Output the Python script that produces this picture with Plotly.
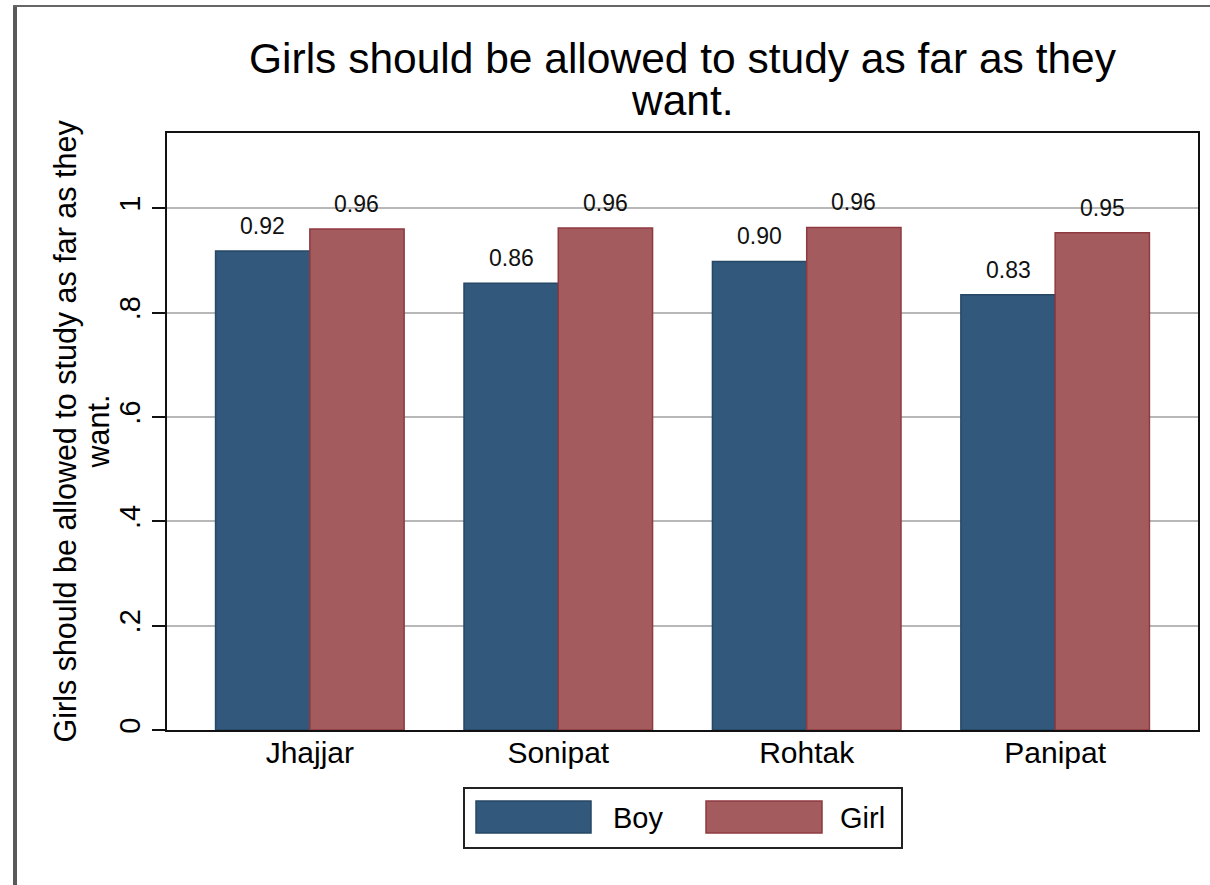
import plotly.graph_objects as go

categories = ["Jhajjar", "Sonipat", "Rohtak", "Panipat"]
boy_values = [0.918, 0.856, 0.898, 0.834]
girl_values = [0.960, 0.962, 0.963, 0.953]
series_names = ["Boy", "Girl"]
ytick_vals = [0, 0.2, 0.4, 0.6, 0.8, 1.0]
ytick_text = ["0", ".2", ".4", ".6", ".8", "1"]
title_lines = ["Girls should be allowed to study as far as they", "want."]

BOY_FILL = "#32587b"
BOY_EDGE = "#274766"
GIRL_FILL = "#a45b5e"
GIRL_EDGE = "#8e3a40"
FONT = "Liberation Sans, Arial, sans-serif"

W, H = 1210, 885
ML, MR, MT, MB = 167, 12, 133, 155
PW = W - ML - MR
PH = H - MT - MB


def px_x(px):
    return (px - ML) / PW


def px_y(py):
    return (H - MB - py) / PH


fig = go.Figure()
fig.add_trace(go.Bar(x=categories, y=boy_values, name=series_names[0],
                     marker=dict(color=BOY_FILL, line=dict(color=BOY_EDGE, width=1.5)),
                     showlegend=False, hoverinfo="skip"))
fig.add_trace(go.Bar(x=categories, y=girl_values, name=series_names[1],
                     marker=dict(color=GIRL_FILL, line=dict(color=GIRL_EDGE, width=1.5)),
                     showlegend=False, hoverinfo="skip"))

bargap = 0.241
half = (1 - bargap) / 4
annotations = []
for i, (b, g) in enumerate(zip(boy_values, girl_values)):
    for off, v in ((-half, b), (half, g)):
        annotations.append(dict(x=i + off, y=v, xref="x", yref="y", text=f"{v:.2f}",
                                showarrow=False, yanchor="bottom", yshift=10,
                                font=dict(family=FONT, size=23, color="#111")))

# title (two lines with tight spacing)
annotations.append(dict(x=0.5, y=px_y(58), xref="paper", yref="paper", text=title_lines[0],
                        showarrow=False, yanchor="middle", xanchor="center",
                        font=dict(family=FONT, size=42.5, color="#000")))
annotations.append(dict(x=0.5, y=px_y(100), xref="paper", yref="paper", text=title_lines[1],
                        showarrow=False, yanchor="middle", xanchor="center",
                        font=dict(family=FONT, size=42.5, color="#000")))
# y axis title (two lines)
annotations.append(dict(x=px_x(65), y=0.5, xref="paper", yref="paper", text=title_lines[0],
                        showarrow=False, textangle=-90, xanchor="center", yanchor="middle",
                        font=dict(family=FONT, size=30.5, color="#000")))
annotations.append(dict(x=px_x(97), y=0.5, xref="paper", yref="paper", text=title_lines[1],
                        showarrow=False, textangle=-90, xanchor="center", yanchor="middle",
                        font=dict(family=FONT, size=30.5, color="#000")))

# custom legend
shapes = [
    dict(type="rect", xref="paper", yref="paper", x0=px_x(464), x1=px_x(902),
         y0=px_y(848), y1=px_y(788), line=dict(color="#222", width=2), fillcolor="white"),
    dict(type="rect", xref="paper", yref="paper", x0=px_x(476), x1=px_x(591),
         y0=px_y(833), y1=px_y(801), line=dict(color=BOY_EDGE, width=1.5), fillcolor=BOY_FILL),
    dict(type="rect", xref="paper", yref="paper", x0=px_x(706), x1=px_x(822),
         y0=px_y(833), y1=px_y(801), line=dict(color=GIRL_EDGE, width=1.5), fillcolor=GIRL_FILL),
    # outer page borders
    dict(type="line", xref="paper", yref="paper", x0=px_x(15), x1=px_x(15),
         y0=px_y(5), y1=px_y(885), line=dict(color="#5a5a5a", width=4)),
    dict(type="line", xref="paper", yref="paper", x0=px_x(13), x1=px_x(1210),
         y0=px_y(6), y1=px_y(6), line=dict(color="#666", width=2)),
]
annotations.append(dict(x=px_x(611), y=px_y(818), xref="paper", yref="paper", text=series_names[0],
                        showarrow=False, xanchor="left", yanchor="middle",
                        font=dict(family=FONT, size=29, color="#000")))
annotations.append(dict(x=px_x(838), y=px_y(818), xref="paper", yref="paper", text=series_names[1],
                        showarrow=False, xanchor="left", yanchor="middle",
                        font=dict(family=FONT, size=29, color="#000")))

fig.update_layout(
    width=W, height=H,
    margin=dict(l=ML, r=MR, t=MT, b=MB, autoexpand=False),
    paper_bgcolor="white", plot_bgcolor="white",
    barmode="group", bargap=bargap, bargroupgap=0,
    annotations=annotations, shapes=shapes,
    font=dict(family=FONT, color="#000"),
)
fig.update_xaxes(range=[-0.575, 3.575], showgrid=False, ticks="",
                 showline=True, linecolor="#111", linewidth=2, mirror=True,
                 ticklabelstandoff=-5,
                 tickfont=dict(family=FONT, size=30, color="#000"))
fig.update_yaxes(range=[0, 1.144], tickvals=ytick_vals, ticktext=ytick_text,
                 tickangle=-90, ticks="outside", ticklen=13, tickwidth=2, tickcolor="#111",
                 showgrid=True, gridcolor="#b8b8b8", gridwidth=2,
                 showline=True, linecolor="#111", linewidth=2, mirror=True,
                 zeroline=False, ticklabelstandoff=0,
                 tickfont=dict(family=FONT, size=29, color="#000"))

fig.write_html("out.html", config={"displayModeBar": False},
               post_script="document.body.style.margin='0';document.body.style.overflow='hidden';")
